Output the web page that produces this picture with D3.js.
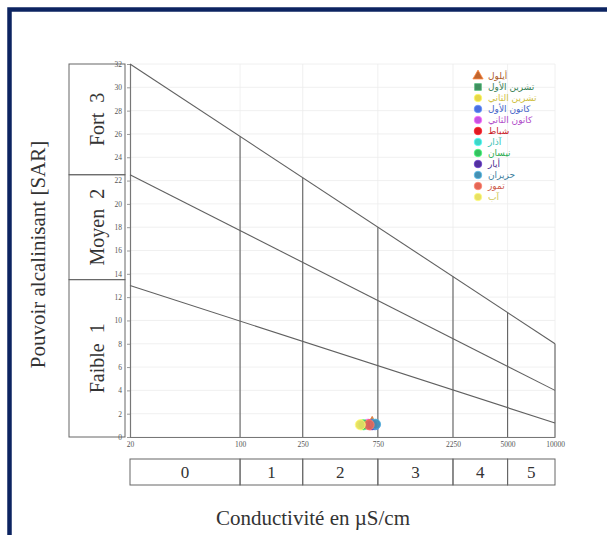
<!DOCTYPE html>
<html>
<head>
<meta charset="utf-8">
<script src="https://cdn.jsdelivr.net/npm/d3@7"></script>
<style>
  body { margin: 0; background: #fff; }
  svg { display: block; }
</style>
</head>
<body>
<div id="chart-area"></div>
<script>
// Données
const monthNames = ["أيلول", "تشرين الأول", "تشرين الثاني", "كانون الأول", "كانون الثاني", "شباط",
                    "آذار", "نيسان", "أيار", "حزيران", "تموز", "آب"];
const conductivity = [690, 700, 590, 720, 650, 670, 700, 610, 690, 725, 660, 580];
const sarValues = [1.1, 1.05, 1.05, 1.05, 1.1, 1.05, 1.1, 1.05, 1.05, 1.1, 1.05, 1.05];

const xTicks = [20, 100, 250, 750, 2250, 5000, 10000];
const yTicks = d3.range(0, 33, 2);
const salinityClasses = ["0", "1", "2", "3", "4", "5"];

// Limites des classes (SAR à 20 et à 10000 µS/cm)
const limitStart = [32, 22.5, 13];
const limitEnd = [8, 4, 1.2];

const alkalinityClasses = ["Fort  3", "Moyen  2", "Faible  1"];
const alkalinityBounds = [32, 22.5, 13.5, 0];

// Styles
const markerColors = ["#c0652e", "#3f8f5f", "#e6d64a", "#4b6fe0", "#c454e0", "#e01a22",
                      "#3fd6c6", "#35c060", "#52309e", "#4590b2", "#e46656", "#e8e063"];
const markerShapes = ["triangle", "square", "circle", "circle", "circle", "circle",
                      "circle", "circle", "circle", "circle", "circle", "circle"];

const svg = d3.select("#chart-area")
    .append("svg")
    .attr("width", 607)
    .attr("height", 535);

// Cadre bleu
svg.append("rect")
    .attr("x", 9.5).attr("y", 9.5)
    .attr("width", 700).attr("height", 700)
    .attr("fill", "none")
    .attr("stroke", "#0c2461")
    .attr("stroke-width", 4.5);

// Escalas
const x = d3.scaleLog()
    .domain([20, 10000])
    .range([130, 555]);

const y = d3.scaleLinear()
    .domain([0, 32])
    .range([437, 64]);

const serif = "'Liberation Serif', 'DejaVu Serif', serif";

// Grille légère
svg.append("g")
    .selectAll("line")
    .data(yTicks)
    .enter()
    .append("line")
    .attr("x1", x(20)).attr("x2", x(10000))
    .attr("y1", d => y(d)).attr("y2", d => y(d))
    .attr("stroke", "#ececec")
    .attr("stroke-width", 0.8);

svg.append("g")
    .selectAll("line")
    .data(xTicks.slice(1))
    .enter()
    .append("line")
    .attr("x1", d => x(d)).attr("x2", d => x(d))
    .attr("y1", y(0)).attr("y2", y(32))
    .attr("stroke", "#ececec")
    .attr("stroke-width", 0.8);

// Axes
const yAxis = d3.axisLeft(y)
    .tickValues(yTicks)
    .tickSize(3)
    .tickPadding(5);

const gy = svg.append("g")
    .attr("transform", `translate(${x(20)},0)`)
    .call(yAxis);

const xAxis = d3.axisBottom(x)
    .tickValues(xTicks)
    .tickFormat(d3.format("d"))
    .tickSize(0)
    .tickPadding(5);

const gx = svg.append("g")
    .attr("transform", `translate(0,${y(0)})`)
    .call(xAxis);

[gx, gy].forEach(g => {
    g.select(".domain").attr("stroke", "#777").attr("stroke-width", 1.2);
    g.selectAll(".tick line").attr("stroke", "#999");
    g.selectAll("text")
        .attr("font-family", serif)
        .attr("font-size", 7.5)
        .attr("fill", "#555");
});

// Droites de limites
const limitLine = (i, v) => {
    const t = (Math.log10(v) - Math.log10(20)) / (Math.log10(10000) - Math.log10(20));
    return limitStart[i] + t * (limitEnd[i] - limitStart[i]);
};

svg.append("g")
    .selectAll("line")
    .data(limitStart)
    .enter()
    .append("line")
    .attr("x1", x(20))
    .attr("y1", d => y(d))
    .attr("x2", x(10000))
    .attr("y2", (d, i) => y(limitEnd[i]))
    .attr("stroke", "#606060")
    .attr("stroke-width", 1.1);

// Verticales jusqu'à la droite supérieure
svg.append("g")
    .selectAll("line")
    .data(xTicks.slice(1))
    .enter()
    .append("line")
    .attr("x1", d => x(d)).attr("x2", d => x(d))
    .attr("y1", y(0))
    .attr("y2", d => y(limitLine(0, d)))
    .attr("stroke", "#606060")
    .attr("stroke-width", 1.1);

// Classes d'alcalinisation (boîtes à gauche)
const boxLeft = 69, boxRight = 125;
const gBox = svg.append("g");
alkalinityClasses.forEach((label, i) => {
    const y0 = y(alkalinityBounds[i]), y1 = y(alkalinityBounds[i + 1]);
    gBox.append("rect")
        .attr("x", boxLeft).attr("y", y0)
        .attr("width", boxRight - boxLeft).attr("height", y1 - y0)
        .attr("fill", "none")
        .attr("stroke", "#666")
        .attr("stroke-width", 1);
    gBox.append("text")
        .attr("transform", `translate(${(boxLeft + boxRight) / 2 + 7},${(y0 + y1) / 2}) rotate(-90)`)
        .attr("text-anchor", "middle")
        .attr("xml:space", "preserve")
        .attr("font-family", serif)
        .attr("font-size", 20)
        .attr("fill", "#333")
        .style("white-space", "pre")
        .text(label);
});

// Classes de salinité (boîtes en bas)
const boxTop = 459, boxBottom = 485;
const gSal = svg.append("g");
salinityClasses.forEach((label, i) => {
    const x0 = x(xTicks[i]), x1 = x(xTicks[i + 1]);
    gSal.append("rect")
        .attr("x", x0).attr("y", boxTop)
        .attr("width", x1 - x0).attr("height", boxBottom - boxTop)
        .attr("fill", "none")
        .attr("stroke", "#666")
        .attr("stroke-width", 1);
    gSal.append("text")
        .attr("x", (x0 + x1) / 2)
        .attr("y", boxBottom - 7)
        .attr("text-anchor", "middle")
        .attr("font-family", serif)
        .attr("font-size", 17)
        .attr("fill", "#333")
        .text(label);
});

// Titres des axes
svg.append("text")
    .attr("x", 313)
    .attr("y", 525)
    .attr("text-anchor", "middle")
    .attr("font-family", serif)
    .attr("font-size", 21)
    .attr("fill", "#333")
    .text("Conductivité en µS/cm");

svg.append("text")
    .attr("transform", `translate(45,${(y(0) + y(32)) / 2 + 4}) rotate(-90)`)
    .attr("text-anchor", "middle")
    .attr("font-family", serif)
    .attr("font-size", 21)
    .attr("fill", "#333")
    .text("Pouvoir alcalinisant [SAR]");

// Symboles
const symbolFor = s => s === "triangle" ? d3.symbolTriangle : s === "square" ? d3.symbolSquare : d3.symbolCircle;

const points = monthNames.map((m, i) => ({
    name: m, ec: conductivity[i], sar: sarValues[i],
    color: markerColors[i], shape: markerShapes[i]
}));

svg.append("g")
    .selectAll("path")
    .data(points)
    .enter()
    .append("path")
    .attr("transform", d => `translate(${x(d.ec)},${y(d.sar)})`)
    .attr("d", d => d3.symbol().type(symbolFor(d.shape)).size(80)())
    .attr("fill", d => d.color)
    .attr("fill-opacity", 0.9)
    .attr("stroke", d => d3.color(d.color).brighter(0.6))
    .attr("stroke-width", 0.8);

// Légende
const legend = svg.append("g")
    .attr("transform", "translate(478,76)");

const item = legend.selectAll("g")
    .data(points)
    .enter()
    .append("g")
    .attr("transform", (d, i) => `translate(0,${i * 11})`);

item.append("path")
    .attr("d", d => d3.symbol().type(symbolFor(d.shape)).size(45)())
    .attr("fill", d => d.color)
    .attr("stroke", d => d3.color(d.color).brighter(0.8))
    .attr("stroke-width", 0.8);

item.append("text")
    .attr("x", 10)
    .attr("y", 3)
    .attr("font-family", "'DejaVu Sans', sans-serif")
    .attr("font-size", 9)
    .attr("fill", d => d3.color(d.color).darker(0.3))
    .text(d => d.name);
</script>
</body>
</html>
